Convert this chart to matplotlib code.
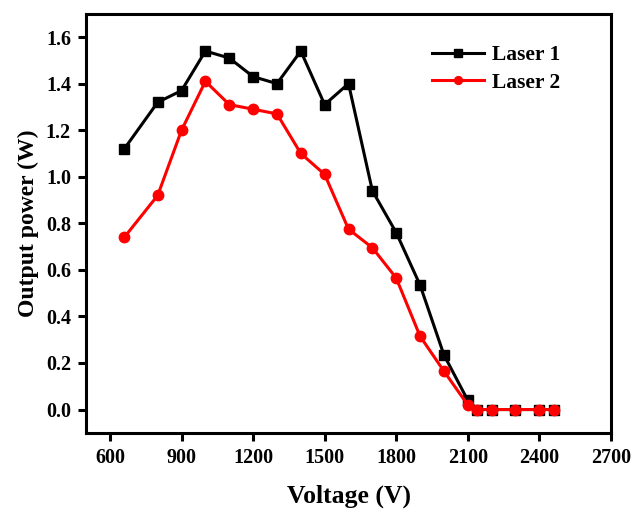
import numpy as np
import matplotlib
matplotlib.use("Agg")
import matplotlib.pyplot as plt

voltage = [660, 800, 900, 1000, 1100, 1200, 1300, 1400, 1500, 1600,
           1700, 1800, 1900, 2000, 2100, 2140, 2200, 2300, 2400, 2460]
laser1 = [1.12, 1.32, 1.37, 1.54, 1.51, 1.43, 1.40, 1.54, 1.31, 1.40,
          0.94, 0.76, 0.535, 0.235, 0.04, 0, 0, 0, 0, 0]
laser2 = [0.74, 0.92, 1.20, 1.41, 1.31, 1.29, 1.27, 1.10, 1.01, 0.775,
          0.695, 0.565, 0.315, 0.165, 0.02, 0, 0, 0, 0, 0]

plt.rcParams['font.family'] = ['Liberation Serif', 'DejaVu Serif']
plt.rcParams['font.weight'] = 'bold'

fig = plt.figure(figsize=(6.43, 5.11), dpi=100)
ax = fig.add_axes([0.134, 0.153, 0.816, 0.820])

ax.plot(voltage, laser1, color='black', marker='s', markersize=7, lw=2.2, label='Laser 1')
ax.plot(voltage, laser2, color='red', marker='o', markersize=7.5, lw=2.2, label='Laser 2')

ax.set_xlim(500, 2700)
ax.set_ylim(-0.1, 1.7)
ax.set_xticks(np.arange(600, 2701, 300))
ax.set_yticks(np.arange(0, 1.61, 0.2))
ax.yaxis.set_major_formatter(matplotlib.ticker.FormatStrFormatter('%.1f'))

for s in ax.spines.values():
    s.set_linewidth(2.2)
ax.tick_params(width=2.2, length=6, labelsize=14.5, pad=5)
for lab in ax.get_xticklabels() + ax.get_yticklabels():
    lab.set_fontweight('bold')

ax.set_xlabel('Voltage (V)', fontsize=18.5, fontweight='bold', labelpad=12)
ax.set_ylabel('Output power (W)', fontsize=17, fontweight='bold', labelpad=5)

leg = ax.legend(loc='upper left', bbox_to_anchor=(0.66, 0.925), frameon=False,
                handlelength=2.4, handletextpad=0.35, labelspacing=0.35,
                borderpad=0, borderaxespad=0, markerscale=0.75,
                prop={'weight': 'bold', 'size': 15.5})

fig.savefig('out.png', dpi=100)
